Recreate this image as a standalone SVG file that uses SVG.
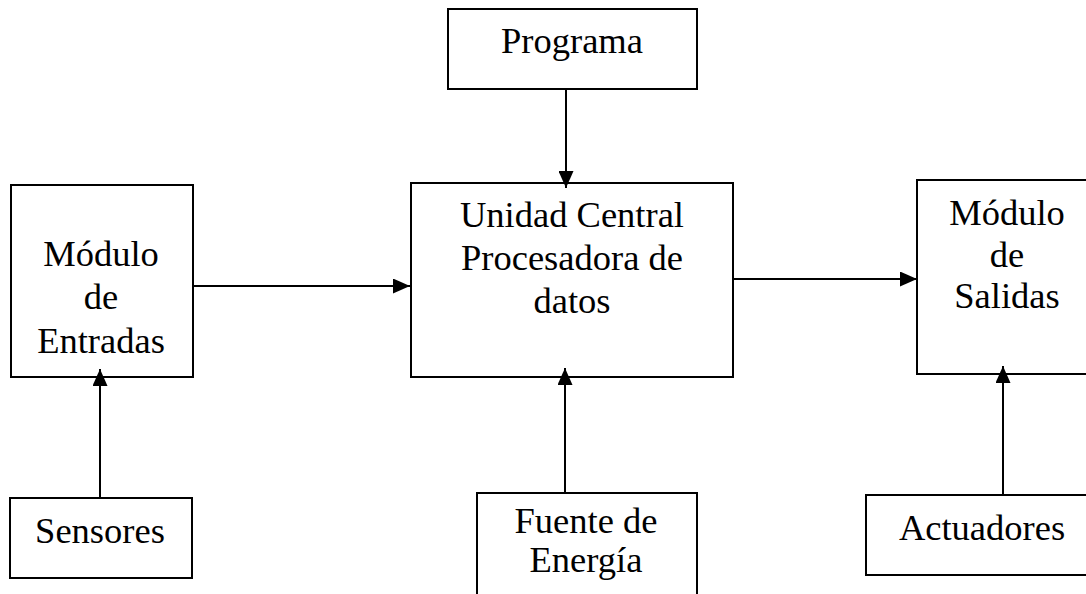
<svg xmlns="http://www.w3.org/2000/svg" width="1086" height="594" viewBox="0 0 1086 594">
<style>
.box{fill:#fff;stroke:#000;stroke-width:2}
.t{font-family:"Liberation Serif",serif;font-size:36.5px;fill:#000;text-anchor:middle}
.c{stroke:#000;stroke-width:2;fill:none}
</style>
<defs>
<marker id="ah" markerUnits="userSpaceOnUse" markerWidth="17" markerHeight="15" refX="17" refY="7.5" orient="auto">
<path d="M0,0 L17,7.5 L0,15 z" fill="#000"/>
</marker>
</defs>
<rect width="1086" height="594" fill="#fff"/>
<g id="programa"><rect class="box" x="448" y="9" width="249" height="80"/><text class="t" x="572" y="53">Programa</text></g>
<g id="entradas"><rect class="box" x="11" y="185" width="182" height="192"/><text class="t" x="101" y="266">Módulo</text><text class="t" x="101" y="309">de</text><text class="t" x="101" y="353">Entradas</text></g>
<g id="cpu"><rect class="box" x="411" y="183" width="322" height="194"/><text class="t" x="572" y="227">Unidad Central</text><text class="t" x="572" y="270">Procesadora de</text><text class="t" x="572" y="313">datos</text></g>
<g id="salidas"><rect class="box" x="917" y="180" width="200" height="194"/><text class="t" x="1007" y="225">Módulo</text><text class="t" x="1007" y="267">de</text><text class="t" x="1007" y="308">Salidas</text></g>
<g id="sensores"><rect class="box" x="10" y="498" width="182" height="80"/><text class="t" x="100" y="543">Sensores</text></g>
<g id="fuente"><rect class="box" x="477" y="493" width="220" height="130"/><text class="t" x="586" y="533">Fuente de</text><text class="t" x="586" y="572">Energía</text></g>
<g id="actuadores"><rect class="box" x="866" y="495" width="240" height="80"/><text class="t" x="982" y="540">Actuadores</text></g>
<g id="connectors">
<line class="c" x1="566" y1="89" x2="566" y2="188" marker-end="url(#ah)"/>
<line class="c" x1="193" y1="286" x2="410" y2="286" marker-end="url(#ah)"/>
<line class="c" x1="733" y1="279" x2="917" y2="279" marker-end="url(#ah)"/>
<line class="c" x1="100" y1="498" x2="100" y2="369" marker-end="url(#ah)"/>
<line class="c" x1="565" y1="493" x2="565" y2="368" marker-end="url(#ah)"/>
<line class="c" x1="1003" y1="495" x2="1003" y2="366" marker-end="url(#ah)"/>
</g>
</svg>
